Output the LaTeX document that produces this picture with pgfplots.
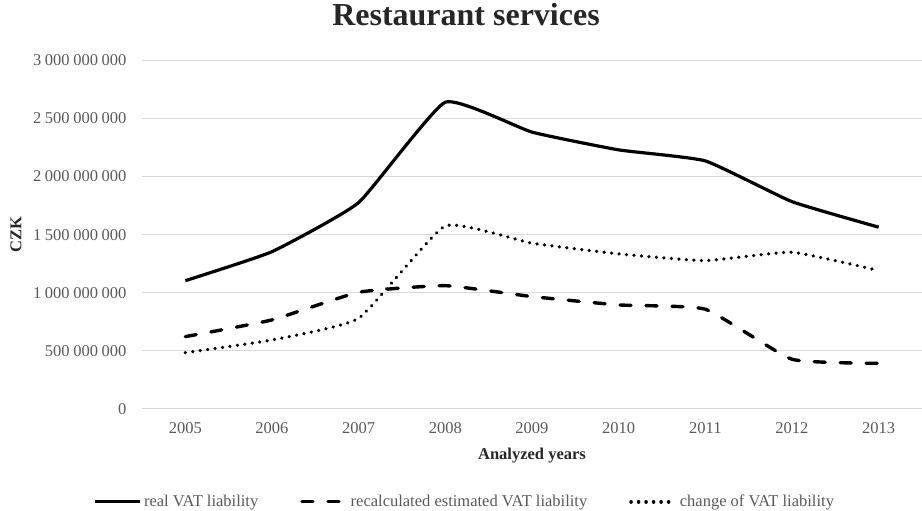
\documentclass[border=0pt]{standalone}
\usepackage{pgfplots}
\pgfplotsset{compat=1.18}
\usepackage{fontspec}
\setmainfont{Liberation Serif}
\definecolor{ticklab}{HTML}{595959}
\definecolor{gridc}{HTML}{D9D9D9}
\definecolor{titlec}{HTML}{262626}
\begin{document}
\begin{tikzpicture}
\path[use as bounding box] (-142pt,-102.3pt) rectangle (780pt,408.7pt);
\begin{axis}[
  at={(0pt,0pt)}, anchor=south west,
  scale only axis, width=780pt, height=348.2pt,
  xmin=-0.5, xmax=8.5, ymin=0, ymax=3000000000,
  xtick={0,1,2,3,4,5,6,7,8},
  xticklabels={2005,2006,2007,2008,2009,2010,2011,2012,2013},
  ytick={0,500000000,1000000000,1500000000,2000000000,2500000000,3000000000},
  scaled y ticks=false,
  /pgf/number format/assume math mode=true,
  /pgf/number format/fixed, /pgf/number format/precision=0,
  /pgf/number format/1000 sep={\hspace{0.22em}},
  ymajorgrids, grid style={gridc, line width=1.3pt},
  axis line style={draw=none}, major tick length=0pt,
  tick label style={font=\fontsize{16.5}{18}\selectfont, text=ticklab},
  xticklabel style={anchor=base, yshift=-25.3pt},
  yticklabel style={anchor=east, inner sep=0pt, xshift=-15.3pt},
  xlabel={Analyzed years},
  xlabel style={at={(axis description cs:0.5,-0.1461)}, anchor=base, font=\bfseries\fontsize{16.5}{18}\selectfont, text=titlec},
  ylabel={CZK},
  ylabel style={at={(axis description cs:-0.1615,0.5)}, anchor=center, font=\bfseries\fontsize{16.5}{18}\selectfont, text=titlec},
  title={Restaurant services},
  title style={at={(axis description cs:0.4154,1.0847)}, anchor=base, font=\bfseries\fontsize{32}{35}\selectfont, text=titlec},
  legend columns=3,
  legend style={at={(axis description cs:0.414,-0.2671)}, anchor=center, draw=none, fill=none,
    font=\fontsize{16.5}{18}\selectfont, text=ticklab,
    /tikz/every even column/.append style={column sep=40pt}},
  legend image code/.code={\draw[#1] (0pt,0pt) -- (45pt,0pt);},
  legend cell align=left,
]
\addplot[black, line width=3.2pt, smooth, tension=0.25, line join=round] table[x=x,y=y] {
x y
0 1103000000
1 1353000000
2 1776000000
3 2641000000
4 2383000000
5 2230000000
6 2135000000
7 1784000000
8 1564000000
};
\addlegendentry{real VAT liability}
\addplot[black, line width=3.4pt, smooth, tension=0.25, line cap=round, dash pattern=on 11pt off 15pt] table[x=x,y=y] {
x y
0 621000000
1 765000000
2 1003000000
3 1060000000
4 966000000
5 894000000
6 857000000
7 426000000
8 391000000
};
\addlegendentry{recalculated estimated VAT liability}
\addplot[black, line width=3.6pt, smooth, tension=0.25, line cap=round, dash pattern=on 0.01pt off 7.5pt] table[x=x,y=y] {
x y
0 483000000
1 592000000
2 779000000
3 1575000000
4 1426000000
5 1334000000
6 1276000000
7 1348000000
8 1190000000
};
\addlegendentry{change of VAT liability}
\end{axis}
\end{tikzpicture}
\end{document}
